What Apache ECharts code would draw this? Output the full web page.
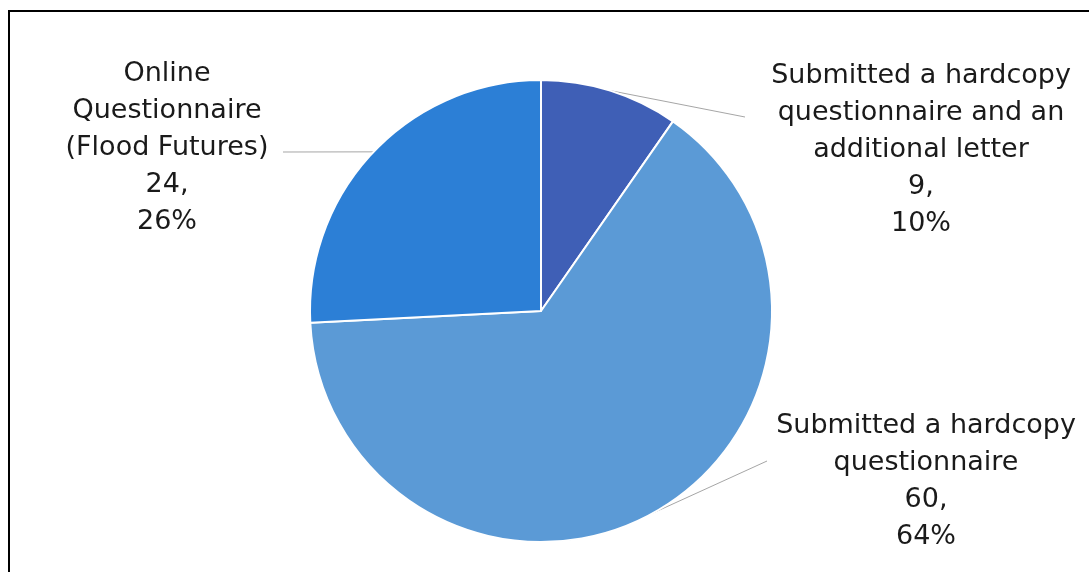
<!DOCTYPE html>
<html>
<head>
<meta charset="utf-8">
<style>
  html, body { margin: 0; padding: 0; background: #ffffff; }
  #chart { width: 1089px; height: 572px; }
</style>
<script src="https://cdn.jsdelivr.net/npm/echarts@6/dist/echarts.min.js"></script>
</head>
<body>
<div id="chart"></div>
<script>
// Response channels and their counts
const categories = [
  'Submitted a hardcopy\nquestionnaire and an\nadditional letter',
  'Submitted a hardcopy\nquestionnaire',
  'Online\nQuestionnaire\n(Flood Futures)'
];
const counts = [9, 60, 24];
const percentLabels = ['10%', '64%', '26%'];
const sliceColors = ['#3f5fb6', '#5b9ad6', '#2c7fd6'];

// Label anchor points (centre of each label block) and where each
// leader line meets its label, as an offset from that centre
const labelSpots = [
  { x: 921, y: 150 },
  { x: 926, y: 481 },
  { x: 167, y: 148 }
];
const leaderEnds = [
  { dx: -176, dy: -33 },
  { dx: -159, dy: -20 },
  { dx: 116, dy: 4 }
];

const chart = echarts.init(document.getElementById('chart'));

chart.setOption({
  backgroundColor: '#ffffff',
  animation: false,
  graphic: [{
    type: 'polyline',
    shape: { points: [[9, 572], [9, 11], [1089, 11]] },
    style: { stroke: '#000000', lineWidth: 2, fill: null },
    silent: true
  }],
  series: [{
    type: 'pie',
    center: [541, 311],
    radius: 231,
    startAngle: 90,
    clockwise: true,
    data: categories.map((name, i) => ({
      name: name,
      value: counts[i],
      itemStyle: { color: sliceColors[i] }
    })),
    itemStyle: { borderColor: '#ffffff', borderWidth: 2 },
    label: {
      show: true,
      position: 'outside',
      formatter: (p) => p.name + '\n' + p.value + ',\n' + percentLabels[p.dataIndex],
      fontFamily: 'DejaVu Sans',
      fontSize: 27,
      lineHeight: 37,
      color: '#1a1a1a',
      align: 'center'
    },
    labelLine: {
      show: true,
      lineStyle: { color: '#a6a6a6', width: 1 }
    },
    labelLayout: (params) => {
      const i = params.dataIndex;
      const spot = labelSpots[i];
      const layout = {
        x: spot.x,
        y: spot.y,
        align: 'center',
        verticalAlign: 'middle'
      };
      // start on the slice edge, run straight to the label
      if (params.labelLinePoints && params.labelLinePoints.length) {
        const start = params.labelLinePoints[0];
        layout.labelLinePoints = [
          [start[0], start[1]],
          [spot.x + leaderEnds[i].dx, spot.y + leaderEnds[i].dy]
        ];
      }
      return layout;
    }
  }]
});
</script>
</body>
</html>
